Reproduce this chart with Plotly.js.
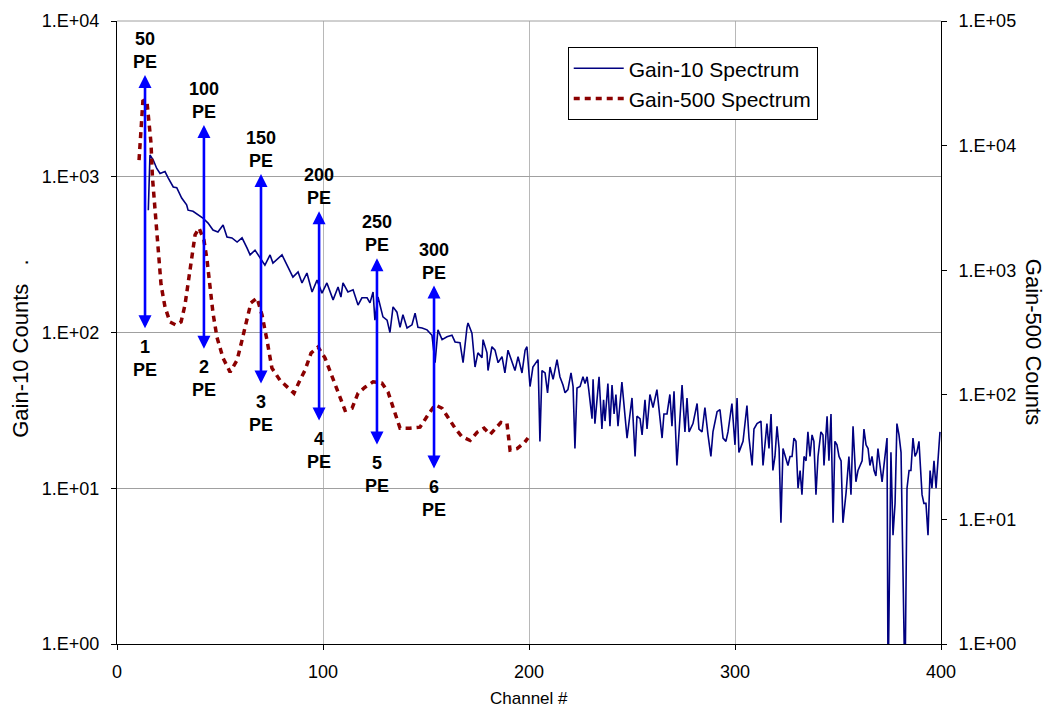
<!DOCTYPE html>
<html>
<head>
<meta charset="utf-8">
<script src="https://cdn.plot.ly/plotly-3.0.1.min.js"></script>
<style>
html,body{margin:0;padding:0;background:#fff;}
#chart{width:1047px;height:711px;}
</style>
</head>
<body>
<div id="chart"></div>
<script>
// ---- Gain-10 spectrum (left axis) ----
const g10Channel = [15.2,16.0,17.6,19.3,20.9,23.3,24.9,27.3,29.0,31.4,33.8,34.5,36.9,39.3,41.7,44.2,46.6,49.0,51.5,53.4,
55.8,58.3,60.7,63.1,64.6,67.0,69.4,71.8,74.3,75.7,80.1,83.0,85.4,87.9,89.8,92.2,94.7,97.1,99.5,101.9,
104.9,107.3,108.7,109.7,112.1,114.6,117.0,118.9,121.4,122.8,124.3,125.2,126.7,129.1,131.1,132.5,134.0,135.9,137.4,138.8,
140.8,143.2,144.7,146.1,148.1,150.5,152.9,154.4,155.8,157.8,160.2,162.6,164.1,166.5,168.0,169.9,170.4,172.3,173.8,175.2,
177.2,177.7,179.6,180.1,182.0,183.5,185.0,186.9,188.3,189.8,191.7,193.2,194.7,196.6,198.1,199.0,200.5,201.9,204.4,205.3,
206.3,207.8,209.0,210.2,211.7,213.6,215.0,216.5,217.5,218.9,220.4,221.4,222.3,223.3,224.8,226.2,227.2,228.2,229.0,230.6,
231.1,232.0,234.0,235.4,236.2,236.9,238.3,239.3,240.3,241.3,242.2,243.2,245.1,247.6,250.0,251.5,252.4,253.9,254.9,256.3,
257.3,258.7,260.2,262.1,264.6,265.5,267.0,268.4,269.4,270.4,271.8,274.3,275.7,276.7,277.7,279.6,281.6,282.5,284.0,285.4,
286.9,288.3,289.3,291.3,292.7,294.2,295.6,296.6,298.5,300.0,301.0,301.9,303.9,305.8,306.8,308.3,309.2,310.7,312.6,313.6,
315.5,316.5,317.5,318.4,319.4,320.4,321.4,322.3,323.3,325.7,326.7,327.7,328.6,329.6,330.6,331.6,332.5,333.5,334.5,335.4,
336.4,337.4,338.3,339.3,340.3,341.7,342.7,343.2,344.7,345.6,346.6,347.6,348.5,349.5,350.5,351.5,352.4,353.9,355.3,356.3,
357.3,358.7,359.7,361.7,362.6,363.6,364.6,365.5,366.5,367.5,368.4,369.4,370.4,371.4,373.8,374.3,375.7,376.7,377.7,378.6,
379.6,380.6,382.5,383.5,384.5,385.4,386.4,387.4,388.3,389.3,390.8,391.7,392.7,393.7,394.7,395.6,396.6,397.6,399.5];
const g10Counts = [610,1380,1280,1130,1050,1080,980,860,850,730,660,610,600,568,543,504,455,442,490,410,
405,381,405,349,315,338,305,271,315,279,315,260,227,245,208,241,182,217,179,208,
162,196,169,208,182,188,150,167,167,155,182,120,169,126,120,100,146,135,108,130,
107,112,133,108,107,104,96,64,104,90,94,96,87,86,64,108,115,99,60,74,
69,90,74,57,81,77,64,70,55,77,64,57,70,55,77,81,45,60,67,20,
57,55,41,60,50,67,52,46,41,43,55,45,18,44,45,52,47,52,43,28,
50,26,52,24,37,27,47,25,46,30,40,25,48,21,38,16,29,28,22,37,
24,40,33,43,21,30,30,40,25,42,14,46,23,38,23,26,35,24,23,33,
22,16,23,31,32,21,20,23,35,19,38,17,20,34,21,14,24,26,27,14,
26,18,30,13,16,25,18,6,18,14,16,16,21,20,10,13,9.1,16,15,23,
16,22,20,9.1,16,23,22,14,29,15,30,6,20,19,16,15,6,9.3,16,9.1,
25,11,13,15,24,19,18,14,16,13,12,18,14,11,21,0.5,17,5,8,26,
22,17,0.5,10,13,13,21,16,17,20,9.1,8,8,5,13,10,15,10,23];

// ---- Gain-500 spectrum (right axis) ----
const g500Channel = [10.7,11.7,12.6,14.6,15.4,16.5,17.2,18.4,19.9,21.4,23.3,25.7,28.6,31.1,33.0,34.5,36.4,37.9,39.8,42.2,
43.7,45.1,46.6,48.5,51.5,54.9,58.3,60.7,62.6,65.0,68.0,70.4,72.8,75.2,79.1,83.0,85.9,88.8,91.3,94.2,
97.6,101.0,104.4,107.3,110.7,114.1,117.0,120.4,124.3,128.6,131.6,134.5,137.4,142.2,147.1,151.0,154.4,157.8,160.7,164.1,
167.5,171.4,174.8,178.2,181.1,184.0,186.4,189.3,190.8,194.2,197.6,199.5];
const g500Counts = [7660,13300,23200,22000,15200,10500,5600,3210,1450,760,507,384,363,384,526,788,1400,1920,2180,1750,
1210,734,453,291,197,152,190,275,384,546,598,437,275,164,131,113,103,131,158,216,
242,197,139,103,75,78,103,115,127,124,105,75,54,54,55,69,83,78,65,54,
46,43,50,54,48,54,60,59,36,37,41,45];

// ---- photo-electron markers ----
const peakChannel = [13.6,42.2,69.9,98.1,126.2,153.9];
const arrowTop = [4500,2150,1040,600,300,200];      // gain-10 counts scale
const arrowBottom = [104,77,46,26.6,18.7,13.1];
const topPE = ['50','100','150','200','250','300'];
const bottomPE = ['1','2','3','4','5','6'];

// ---- axes ----
const xTicks = [0,100,200,300,400];
const leftTickVals = [1,10,100,1000,10000];
const leftTickText = ['1.E+00','1.E+01','1.E+02','1.E+03','1.E+04'];
const rightTickVals = [1,10,100,1000,10000,100000];
const rightTickText = ['1.E+00','1.E+01','1.E+02','1.E+03','1.E+04','1.E+05'];

const FONT = 'Liberation Sans, Arial, Helvetica, sans-serif';
const ARROW_BLUE = '#0000FF';

const traces = [
  {x:g10Channel, y:g10Counts, type:'scatter', mode:'lines', name:'Gain-10 Spectrum',
   line:{color:'#000080', width:1.6}, yaxis:'y'},
  {x:g500Channel, y:g500Counts, type:'scatter', mode:'lines', name:'Gain-500 Spectrum',
   line:{color:'#8B0000', width:3.5, dash:'6px,5px'}, yaxis:'y2'}
];

const annotations = [];
for (let i = 0; i < peakChannel.length; i++) {
  annotations.push({
    x: peakChannel[i], y: Math.log10(arrowTop[i]), xref:'x', yref:'y',
    ax: peakChannel[i], ay: Math.log10(arrowBottom[i]), axref:'x', ayref:'y',
    text:'', showarrow:true, arrowside:'end+start', arrowhead:2, arrowsize:1,
    arrowwidth:2.6, arrowcolor:ARROW_BLUE, standoff:0, startstandoff:0
  });
  annotations.push({
    x: peakChannel[i], y: Math.log10(arrowTop[i]), xref:'x', yref:'y',
    text:'<b>'+topPE[i]+'</b><br><b>PE</b>', showarrow:false,
    xanchor:'center', yanchor:'bottom', yshift:1,
    font:{family:FONT, size:18, color:'#000'}
  });
  annotations.push({
    x: peakChannel[i], y: Math.log10(arrowBottom[i]), xref:'x', yref:'y',
    text:'<b>'+bottomPE[i]+'</b><br><b>PE</b>', showarrow:false,
    xanchor:'center', yanchor:'top', yshift:-5,
    font:{family:FONT, size:18, color:'#000'}
  });
}
// axis titles
annotations.push({
  text:'Gain-10 Counts\u00A0\u00A0\u00A0.', xref:'paper', yref:'paper',
  x:-0.118, y:0.475, textangle:-90, showarrow:false, xanchor:'center', yanchor:'middle',
  font:{family:FONT, size:22, color:'#000'}
});
annotations.push({
  text:'Gain-500 Counts', xref:'paper', yref:'paper',
  x:1.1117, y:0.485, textangle:90, showarrow:false, xanchor:'center', yanchor:'middle',
  font:{family:FONT, size:22, color:'#000'}
});
annotations.push({
  text:'Channel #', xref:'paper', yref:'paper',
  x:0.5, y:-0.088, showarrow:false, xanchor:'center', yanchor:'middle',
  font:{family:FONT, size:17, color:'#000'}
});

const layout = {
  width:1047, height:711,
  margin:{l:117, r:106, t:21, b:67, pad:0},
  paper_bgcolor:'#fff', plot_bgcolor:'#fff',
  font:{family:FONT, size:18, color:'#000'},
  showlegend:true,
  legend:{x:0.547, y:0.958, xanchor:'left', yanchor:'top', bgcolor:'#fff',
    bordercolor:'#000', borderwidth:1, font:{family:FONT, size:21, color:'#000'},
    itemwidth:50, tracegroupgap:0},
  xaxis:{range:[0,400], tickvals:xTicks, ticktext:xTicks.map(String),
    showgrid:true, gridcolor:'#b8b8b8', gridwidth:1,
    showline:true, linecolor:'#000', linewidth:1,
    ticks:'outside', ticklen:5, tickcolor:'#000', zeroline:false,
    tickfont:{family:FONT, size:18}, ticklabelstandoff:6},
  yaxis:{type:'log', range:[0,4], tickvals:leftTickVals, ticktext:leftTickText,
    showgrid:true, gridcolor:'#a0a0a0', gridwidth:1,
    showline:true, linecolor:'#000', linewidth:1,
    ticks:'outside', ticklen:5, tickcolor:'#000', zeroline:false,
    tickfont:{family:FONT, size:18}, ticklabelstandoff:8},
  yaxis2:{type:'log', range:[0,5], tickvals:rightTickVals, ticktext:rightTickText,
    overlaying:'y', side:'right', showgrid:false,
    showline:true, linecolor:'#000', linewidth:1,
    ticks:'outside', ticklen:5, tickcolor:'#000', zeroline:false,
    tickfont:{family:FONT, size:18}, ticklabelstandoff:8},
  shapes:[{type:'line', xref:'paper', yref:'paper', x0:0, x1:1, y0:1, y1:1,
    line:{color:'#a0a0a0', width:1}}],
  annotations:annotations
};

Plotly.newPlot('chart', traces, layout, {displayModeBar:false, staticPlot:true});
</script>
</body>
</html>
